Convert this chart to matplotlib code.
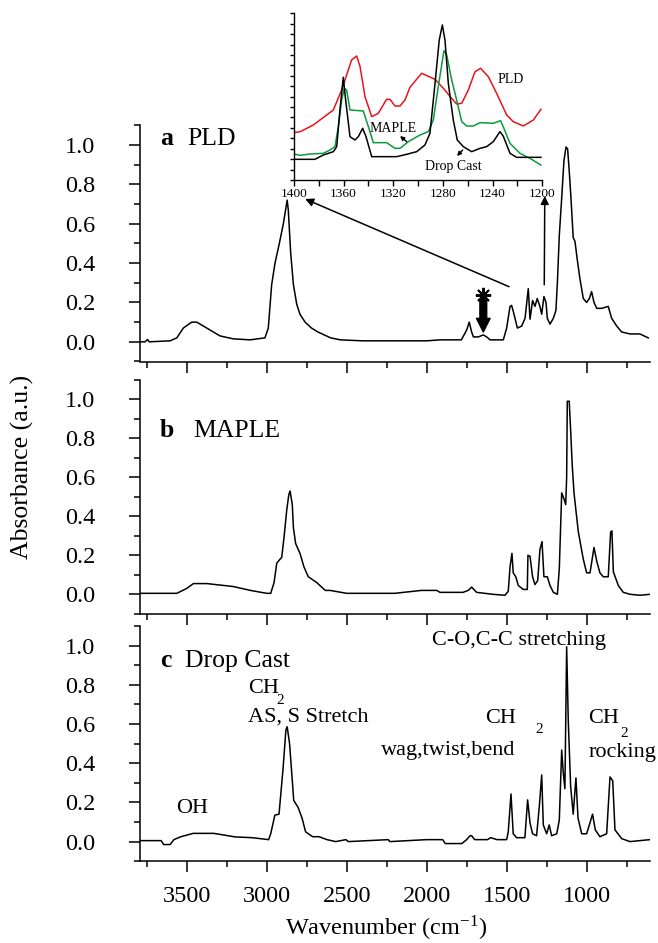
import numpy as np
import matplotlib
matplotlib.use("Agg")
import matplotlib.pyplot as plt
from matplotlib.ticker import MultipleLocator
from matplotlib.patches import ConnectionPatch

plt.rcParams['font.family'] = ['Liberation Serif', 'DejaVu Serif']
plt.rcParams['mathtext.fontset'] = 'stix'

# --- datos ---
# PLD (panel a)
wn_pld = [3792, 3760, 3745, 3735, 3604, 3562, 3521, 3469, 3437, 3375, 3292, 3208, 3104, 3011,
          2990, 2969, 2948, 2921, 2896, 2880, 2872, 2865, 2850, 2833, 2812, 2792, 2760, 2720,
          2680, 2640, 2600, 2540, 2400, 2200, 2000, 1917, 1783, 1750, 1734, 1719, 1708, 1677,
          1646, 1625, 1604, 1521, 1500, 1479, 1469, 1454, 1433, 1406, 1385, 1365, 1354, 1338,
          1323, 1309, 1292, 1281, 1267, 1254, 1246, 1229, 1208, 1192, 1183, 1171, 1156, 1142,
          1129, 1119, 1109, 1098, 1084, 1073, 1059, 1042, 1021, 1000, 983, 969, 954, 937,
          906, 865, 844, 812, 781, 729, 667, 615]
ab_pld = [0.0, 0.0, 0.012, 0.0, 0.005, 0.02, 0.07, 0.10, 0.10, 0.07, 0.03, 0.015, 0.01, 0.02,
          0.07, 0.29, 0.40, 0.50, 0.60, 0.68, 0.72, 0.67, 0.45, 0.29, 0.19, 0.14, 0.10, 0.07,
          0.05, 0.035, 0.02, 0.01, 0.005, 0.005, 0.005, 0.01, 0.01, 0.06, 0.10, 0.05, 0.025, 0.025,
          0.035, 0.025, 0.01, 0.01, 0.07, 0.18, 0.185, 0.14, 0.07, 0.08, 0.12, 0.27, 0.115, 0.21,
          0.18, 0.22, 0.18, 0.14, 0.23, 0.20, 0.12, 0.09, 0.12, 0.16, 0.30, 0.54, 0.73, 0.92,
          0.99, 0.98, 0.87, 0.73, 0.53, 0.51, 0.42, 0.32, 0.22, 0.20, 0.22, 0.255, 0.20, 0.17,
          0.17, 0.18, 0.12, 0.08, 0.05, 0.04, 0.04, 0.02]

# MAPLE (panel b)
wn_maple = [3792, 3562, 3500, 3458, 3375, 3210, 3102, 3000, 2975, 2954, 2937, 2906, 2892, 2875,
            2862, 2854, 2840, 2833, 2819, 2792, 2767, 2740, 2687, 2634, 2604, 2500, 2200, 2032,
            1937, 1917, 1773, 1740, 1719, 1688, 1586, 1511, 1490, 1479, 1467, 1459, 1443, 1427,
            1396, 1371, 1367, 1354, 1338, 1323, 1306, 1292, 1279, 1267, 1246, 1229, 1208, 1183,
            1171, 1156, 1142, 1131, 1125, 1121, 1109, 1100, 1090, 1079, 1067, 1052, 1021, 1000,
            979, 954, 937, 917, 896, 865, 850, 842, 833, 802, 771, 729, 667, 604]
ab_maple = [0.005, 0.005, 0.03, 0.055, 0.055, 0.04, 0.02, 0.005, 0.005, 0.06, 0.16, 0.19, 0.29, 0.43,
            0.51, 0.53, 0.46, 0.34, 0.26, 0.21, 0.14, 0.09, 0.06, 0.02, 0.02, 0.005, 0.005, 0.02,
            0.02, 0.01, 0.01, 0.02, 0.037, 0.01, 0.0, -0.005, 0.015, 0.14, 0.21, 0.11, 0.09, 0.045,
            0.025, 0.025, 0.20, 0.195, 0.09, 0.05, 0.07, 0.23, 0.27, 0.09, 0.09, 0.045, 0.01, 0.0,
            0.13, 0.52, 0.49, 0.46, 0.60, 0.99, 0.99, 0.84, 0.66, 0.52, 0.43, 0.32, 0.18, 0.11,
            0.11, 0.24, 0.17, 0.11, 0.09, 0.09, 0.32, 0.325, 0.115, 0.045, 0.01, 0.0, -0.005, 0.0]

# Drop Cast (panel c)
wn_drop = [3792, 3660, 3644, 3604, 3580, 3540, 3460, 3330, 3198, 3092, 2988, 2975, 2949, 2923,
           2898, 2880, 2872, 2857, 2831, 2804, 2779, 2757, 2713, 2673, 2623, 2569, 2505, 2490,
           2240, 2230, 2000, 1900, 1884, 1780, 1750, 1729, 1719, 1700, 1620, 1600, 1560, 1500,
           1490, 1473, 1459, 1438, 1386, 1369, 1354, 1338, 1313, 1296, 1281, 1271, 1250, 1234,
           1219, 1187, 1171, 1156, 1146, 1136, 1125, 1115, 1100, 1084, 1067, 1054, 1031, 1000,
           963, 946, 917, 875, 854, 837, 823, 781, 729, 604]
ab_drop = [0.005, 0.005, -0.015, -0.015, 0.01, 0.024, 0.042, 0.042, 0.024, 0.02, 0.01, 0.04, 0.135, 0.14,
           0.37, 0.57, 0.586, 0.50, 0.21, 0.175, 0.12, 0.05, 0.025, 0.025, 0.01, 0.0, 0.01, 0.0,
           0.01, 0.0, 0.01, 0.01, -0.01, -0.01, 0.01, 0.03, 0.03, 0.01, 0.01, 0.02, 0.01, 0.01,
           0.05, 0.243, 0.04, 0.02, 0.02, 0.213, 0.095, 0.04, 0.03, 0.178, 0.34, 0.085, 0.04, 0.085,
           0.03, 0.04, 0.11, 0.467, 0.35, 0.27, 0.994, 0.62, 0.28, 0.14, 0.325, 0.12, 0.04, 0.04,
           0.14, 0.06, 0.025, 0.04, 0.33, 0.31, 0.06, 0.015, 0.0, 0.01]

# inset 1400-1200 cm-1 (unidades arbitrarias)
wn_in_pld = [1400, 1395, 1384.4, 1368.3, 1361.6, 1353.6, 1349.5, 1346.8, 1342.8, 1337.4, 1332.1,
             1325.4, 1322.7, 1318.7, 1314.6, 1310.6, 1306.6, 1297.2, 1286.4, 1279.7, 1273.0, 1269.0,
             1264.9, 1259.6, 1254.2, 1249.7, 1243.5, 1236.8, 1228.7, 1223.4, 1215.3, 1207.2, 1201.1]
in_pld = [0.284, 0.29, 0.33, 0.42, 0.54, 0.72, 0.744, 0.68, 0.50, 0.38, 0.40,
          0.484, 0.484, 0.444, 0.444, 0.48, 0.556, 0.64, 0.604, 0.55, 0.49, 0.456,
          0.46, 0.54, 0.65, 0.67, 0.62, 0.52, 0.39, 0.35, 0.324, 0.36, 0.424]
wn_in_maple = [1400, 1395, 1387.1, 1376.4, 1371, 1367, 1364.3, 1361.6, 1359.5, 1357.6, 1354.9,
               1344.2, 1340.1, 1336.1, 1325.4, 1318.7, 1314.6, 1307.9, 1298.5, 1291.8, 1287.8,
               1283.8, 1279.2, 1277.0, 1273.0, 1269.0, 1264.9, 1260.9, 1255.5, 1250.2, 1239.5,
               1233.6, 1231.5, 1226.0, 1218.0, 1210.0, 1201.1]
in_maple = [0.156, 0.148, 0.156, 0.16, 0.18, 0.20, 0.32, 0.48, 0.55, 0.54, 0.42,
            0.414, 0.32, 0.224, 0.224, 0.19, 0.19, 0.23, 0.27, 0.29, 0.36,
            0.56, 0.776, 0.75, 0.60, 0.48, 0.35, 0.324, 0.324, 0.344, 0.34,
            0.356, 0.32, 0.22, 0.16, 0.13, 0.09]
wn_in_drop = [1400, 1383.1, 1376.4, 1368.3, 1365.6, 1363.0, 1360.3, 1358.4, 1354.9, 1350.9, 1348.2,
              1344.7, 1342.0, 1337.4, 1317.3, 1309.3, 1301.2, 1294.5, 1290.5, 1286.4, 1283.0,
              1280.5, 1278.4, 1275.7, 1271.7, 1268.5, 1263.6, 1256.9, 1250.2, 1244.8, 1239.5,
              1234.1, 1231.5, 1226.0, 1220.7, 1201.1]
in_drop = [0.124, 0.124, 0.15, 0.17, 0.20, 0.42, 0.616, 0.48, 0.26, 0.24, 0.26,
           0.31, 0.26, 0.14, 0.14, 0.154, 0.17, 0.21, 0.28, 0.58, 0.84,
           0.93, 0.84, 0.58, 0.36, 0.24, 0.20, 0.17, 0.19, 0.20, 0.23,
           0.29, 0.264, 0.16, 0.136, 0.136]

xticks = [3500, 3000, 2500, 2000, 1500, 1000]
yticks = [0.0, 0.2, 0.4, 0.6, 0.8, 1.0]
inset_xticks = [1400, 1360, 1320, 1280, 1240, 1200]

# --- figura ---
W, H = 658, 943
fig = plt.figure(figsize=(W / 100, H / 100), dpi=100)


def ejes_px(left, top, right, bottom):
    return fig.add_axes([left / W, 1 - bottom / H, (right - left) / W, (bottom - top) / H])


ax_a = ejes_px(140, 125.3, 650, 361.5)
ax_b = ejes_px(140, 379.8, 650, 613.8)
ax_c = ejes_px(140, 626, 650, 861.2)
axes = [ax_a, ax_b, ax_c]
datos = [(wn_pld, ab_pld), (wn_maple, ab_maple), (wn_drop, ab_drop)]

for ax, (x, y) in zip(axes, datos):
    ax.plot(x, y, color='black', lw=1.1)
    ax.set_xlim(3792, 604)
    ax.set_ylim(-0.1, 1.1)
    for s in ['top', 'right']:
        ax.spines[s].set_visible(False)
    for s in ['left', 'bottom']:
        ax.spines[s].set_linewidth(1.1)
    ax.set_xticks(xticks)
    ax.xaxis.set_minor_locator(MultipleLocator(250))
    ax.set_yticks(yticks)
    ax.set_yticklabels([f'{v:.1f}' for v in yticks])
    ax.yaxis.set_minor_locator(MultipleLocator(0.1))
    ax.tick_params(which='major', direction='out', length=8, width=1.1, labelsize=17.5)
    ax.tick_params(which='minor', direction='out', length=4, width=1.1)
    ax.tick_params(axis='y', which='major', pad=24)
    ax.tick_params(axis='x', which='major', pad=10)
    ax.patch.set_alpha(0)

ax_a.tick_params(axis='x', labelbottom=False)
ax_b.tick_params(axis='x', labelbottom=False)

# etiquetas de panel
ax_a.text(3667, 1.0, 'a', fontsize=18.5, fontweight='bold')
ax_a.text(3498, 1.0, 'PLD', fontsize=18.5)
ax_b.text(3667, 0.807, 'b', fontsize=18.5, fontweight='bold')
ax_b.text(3459, 0.807, 'MAPLE', fontsize=18.5)
ax_c.text(3667, 0.892, 'c', fontsize=18.5, fontweight='bold')
ax_c.text(3513, 0.892, 'Drop Cast', fontsize=18.5)

# anotaciones panel c
fs = 16
ax_c.text(1967, 1.003, 'C-O,C-C stretching', fontsize=fs)
ax_c.text(3119, 0.758, 'CH', fontsize=fs)
ax_c.text(2915, 0.722, '2', fontsize=11, ha='center', va='center')
ax_c.text(3119, 0.612, 'AS, S Stretch', fontsize=fs)
ax_c.text(1636, 0.604, 'CH', fontsize=fs)
ax_c.text(1296, 0.57, '2', fontsize=11, ha='center', va='center')
ax_c.text(1448, 0.442, 'wag,twist,bend', fontsize=fs, ha='right')
ax_c.text(990, 0.604, 'CH', fontsize=fs)
ax_c.text(765, 0.553, '2', fontsize=11, ha='center', va='center')
ax_c.text(990, 0.433, 'rocking', fontsize=fs)
ax_c.text(3567, 0.144, 'OH', fontsize=fs)

# asterisco y flecha gruesa
ax_a.annotate('', xy=(1646, 0.05), xytext=(1646, 0.215),
              arrowprops=dict(arrowstyle='simple,head_length=0.7,head_width=0.7,tail_width=0.35',
                              color='black', mutation_scale=14, shrinkA=0, shrinkB=0))
ax_a.plot([1646], [0.237], marker=(8, 2, 0), ms=11, mew=1.4, color='black')

ax_c.set_xticklabels([str(v) for v in xticks])
fig.text(386 / W, 1 - 928 / H, r'Wavenumber (cm$^{\mathregular{-1}}$)', fontsize=17.5,
         ha='center', va='center')
fig.text(22 / W, 1 - 467 / H, 'Absorbance (a.u.)', fontsize=18.5, rotation=90,
         ha='center', va='center')

# --- inset ---
ins = ejes_px(294, 13.3, 542.3, 180)
ins.plot(wn_in_pld, in_pld, color='#e8141c', lw=1.1)
ins.plot(wn_in_maple, in_maple, color='#0b9a3c', lw=1.1)
ins.plot(wn_in_drop, in_drop, color='black', lw=1.1)
ins.set_xlim(1400, 1200)
ins.set_ylim(0, 1)
for s in ['top', 'right']:
    ins.spines[s].set_visible(False)
for s in ['left', 'bottom']:
    ins.spines[s].set_linewidth(1.0)
ins.set_xticks(inset_xticks)
ins.set_xticklabels([str(v) for v in inset_xticks])
ins.xaxis.set_minor_locator(MultipleLocator(20))
ins.set_yticks(np.arange(0, 1.0001, 1 / 16))
ins.set_yticklabels([])
ins.tick_params(which='both', direction='out', length=4, width=1.0, labelsize=9.6, pad=2)
ins.tick_params(axis='y', length=3)

ins.text(1236, 0.60, 'PLD', fontsize=10, va='center')
ins.text(1339, 0.306, 'MAPLE', fontsize=10, va='center')
ins.text(1294.5, 0.078, 'Drop Cast', fontsize=10, va='center')
ins.annotate('', xy=(1314.6, 0.264), xytext=(1309.2, 0.23),
             arrowprops=dict(arrowstyle='-|>', color='black', lw=1.0, mutation_scale=6,
                             shrinkA=0, shrinkB=0))
ins.annotate('', xy=(1268.7, 0.144), xytext=(1264.1, 0.18),
             arrowprops=dict(arrowstyle='-|>', color='black', lw=1.0, mutation_scale=6,
                             shrinkA=0, shrinkB=0))

# flechas que unen el panel a con el inset
for xa, ya, xi, yi in [(1485, 0.28, 1391, -0.114), (1265, 0.29, 1198, -0.096)]:
    con = ConnectionPatch(xyA=(xa, ya), coordsA=ax_a.transData,
                          xyB=(xi, yi), coordsB=ins.transData,
                          arrowstyle='-|>', color='black', lw=1.1, mutation_scale=12,
                          shrinkA=0, shrinkB=0)
    fig.add_artist(con)

fig.savefig('out.png', dpi=100)
